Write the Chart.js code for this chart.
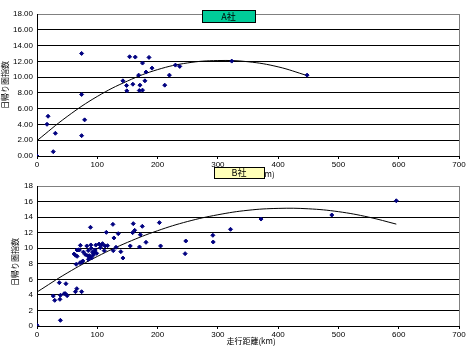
<!DOCTYPE html>
<html>
<head>
<meta charset="utf-8">
<script src="https://cdn.jsdelivr.net/npm/chart.js@4.4.1/dist/chart.umd.min.js"></script>
<style>
  body { margin: 0; background: #fff; }
  canvas { position: absolute; left: 0; top: 0; }
</style>
</head>
<body>
<canvas id="chartA" width="473" height="351"></canvas>
<canvas id="chartB" width="473" height="351"></canvas>
<script>
// A社 data (走行距離 km, 指数)
var aX = [0, 16.6, 18.3, 27, 30.5, 74, 74, 74, 79, 142.5, 148.6, 149, 153.6, 159, 163, 168.6, 170.8, 169.7, 175, 175, 179, 180.8, 185.8, 190.8, 211.9, 219.6, 229.6, 236.8, 323, 448];
var aY = [0, 4.02, 5.04, 0.55, 2.88, 13.0, 7.8, 2.58, 4.58, 9.53, 8.94, 8.26, 12.58, 9.1, 12.54, 10.25, 8.98, 8.3, 8.35, 11.78, 9.53, 10.64, 12.5, 11.14, 8.98, 10.25, 11.52, 11.36, 12.03, 10.25];
// A社 trend line
var aTrendX = [0, 50, 100, 150, 200, 250, 300, 350, 400, 448];
var aTrendY = [1.95, 5.0, 7.55, 9.5, 10.95, 11.8, 12.1, 11.95, 11.3, 10.2];

// B社 data
var bX = [0, 27, 29.4, 37, 38, 38.8, 38.8, 45, 47, 48, 50, 63.8, 66, 74, 61.6, 63.8, 65, 66.6, 69.3, 72, 73.8, 76, 77, 82.6, 83.8, 85.4, 87, 88.7, 89.3, 90, 90.4, 93, 95.4, 96.5, 99, 103, 105, 108.7, 111.5, 113, 115, 117, 125.9, 126.5, 127.6, 131, 134.8, 139, 142.5, 154.7, 158.6, 159.7, 162, 170, 171.4, 174.7, 180.8, 203, 205, 245.7, 246.8, 291.7, 292.3, 321, 371.6, 489, 596, 97.5, 106.8, 66.4, 70.3, 71.4, 80, 85, 92, 88, 94];
var bY = [0.1, 3.86, 3.3, 5.57, 3.43, 3.94, 0.73, 4.16, 4.16, 5.44, 3.9, 4.41, 4.8, 4.41, 9.26, 9.09, 7.93, 8.96, 9.8, 10.37, 8.19, 8.36, 9.5, 10.29, 9.04, 8.57, 9.04, 12.69, 10.42, 9.99, 8.74, 9.09, 9.51, 9.77, 9.34, 10.54, 10.07, 10.59, 9.69, 10.29, 12.04, 10.33, 13.07, 9.69, 11.32, 10.12, 11.87, 9.56, 8.74, 10.29, 12.0, 13.16, 12.3, 10.16, 11.74, 12.82, 10.76, 13.29, 10.29, 9.3, 10.93, 11.66, 10.8, 12.43, 13.75, 14.27, 16.1, 10.4, 10.4, 9.77, 9.77, 8.14, 9.2, 9.7, 9.5, 8.9, 9.3];
var bTrendX = [0, 50, 100, 150, 200, 250, 300, 350, 400, 450, 500, 550, 596];
var bTrendY = [4.37, 6.81, 8.94, 10.75, 12.25, 13.44, 14.3, 14.88, 15.12, 15.07, 14.7, 14.0, 13.1];

var xTitle = '走行距離(km)';
var yTitle = '日帰り圏指数';

function pairs(xs, ys) {
  var out = [];
  for (var i = 0; i < xs.length; i++) out.push({x: xs[i], y: ys[i]});
  return out;
}

// draws the name box and axis titles
var decor = {
  id: 'decor',
  afterDraw: function(chart, args, o) {
    var c = chart.ctx;
    c.save();
    c.fillStyle = '#000';
    c.font = '8px "Noto Sans CJK JP"';
    c.textAlign = 'center';
    c.textBaseline = 'middle';
    c.fillText(xTitle, o.xt[0], o.xt[1]);
    c.save();
    c.translate(o.yt[0], o.yt[1]);
    c.rotate(-Math.PI / 2);
    c.fillText(yTitle, 0, 0);
    c.restore();
    c.fillStyle = o.boxColor;
    c.fillRect(o.box[0], o.box[1], o.box[2], o.box[3]);
    c.strokeStyle = '#000';
    c.lineWidth = 1;
    c.strokeRect(o.box[0] + 0.5, o.box[1] + 0.5, o.box[2], o.box[3]);
    c.fillStyle = '#000';
    c.font = '9px "Noto Sans CJK JP"';
    c.fillText(o.name, o.box[0] + o.box[2] / 2, o.box[1] + o.box[3] / 2 + 0.5);
    c.restore();
  }
};

function makeChart(id, pts, trend, pad, yFmt, d) {
  return new Chart(document.getElementById(id), {
    type: 'scatter',
    data: {
      datasets: [
        {
          data: pts,
          pointStyle: 'rectRot',
          pointRadius: 2,
          backgroundColor: '#000080',
          borderColor: '#000080',
          borderWidth: 1
        },
        {
          data: trend,
          showLine: true,
          pointRadius: 0,
          borderColor: '#000',
          borderWidth: 1,
          tension: 0.4
        }
      ]
    },
    options: {
      responsive: false,
      animation: false,
      layout: { padding: pad },
      plugins: { legend: { display: false }, tooltip: { enabled: false }, decor: d },
      scales: {
        x: {
          min: 0, max: 700,
          afterFit: function(s) { s.height = 20; },
          ticks: { stepSize: 100, color: '#000', padding: 1, maxRotation: 0, font: { family: 'Liberation Sans', size: 8 } },
          grid: {
            color: function(ctx) { return ctx.tick && ctx.tick.value === 700 ? '#808080' : 'rgba(0,0,0,0)'; },
            tickColor: '#000', tickLength: 3
          },
          border: { color: '#000', width: 1 }
        },
        y: {
          min: 0, max: 18,
          afterFit: function(s) { s.width = 37; },
          ticks: { stepSize: 2, color: '#000', padding: 4, font: { family: 'Liberation Sans', size: 8 }, callback: yFmt },
          grid: {
            color: function(ctx) { return ctx.tick && ctx.tick.value === 18 ? '#808080' : '#000'; },
            drawTicks: false
          },
          border: { color: '#000', width: 1 }
        }
      }
    },
    plugins: [decor]
  });
}

makeChart('chartA', pairs(aX, aY), pairs(aTrendX, aTrendY),
  { left: 0, right: 14, top: 14, bottom: 175 },
  function(v) { return v.toFixed(2); },
  { name: 'A社', box: [202, 10, 53, 12], boxColor: '#00CC99', xt: [250, 174], yt: [5, 85] });

makeChart('chartB', pairs(bX, bY), pairs(bTrendX, bTrendY),
  { left: 0, right: 14, top: 186, bottom: 5 },
  function(v) { return v; },
  { name: 'B社', box: [214, 167, 50, 11], boxColor: '#FFFFB8', xt: [251, 341], yt: [15, 262] });
</script>
</body>
</html>
